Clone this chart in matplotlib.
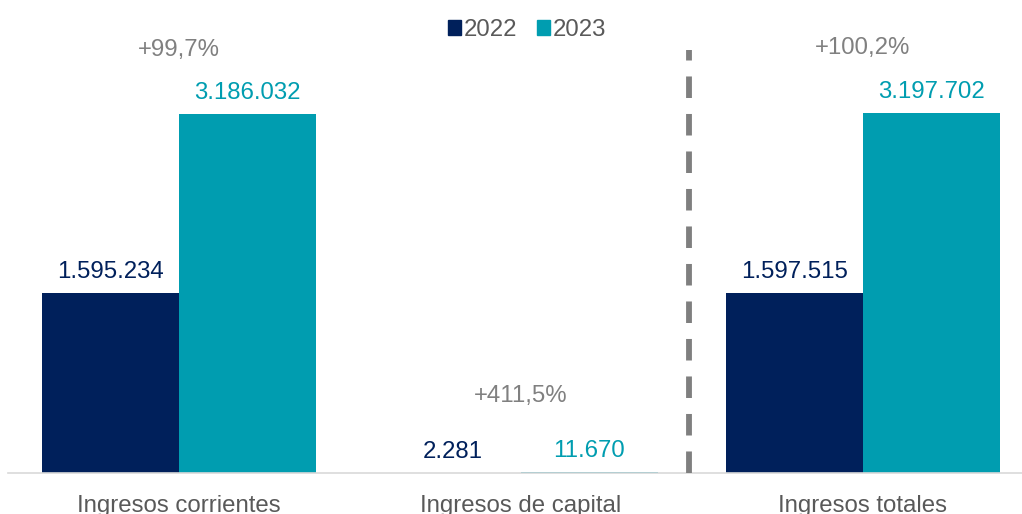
import matplotlib
matplotlib.use("Agg")
import matplotlib.pyplot as plt
from matplotlib.patches import Patch

plt.rcParams['font.family'] = ['Liberation Sans', 'DejaVu Sans']
plt.rcParams['lines.scale_dashes'] = False

categories = ["Ingresos corrientes", "Ingresos de capital", "Ingresos totales"]
series_names = ["2022", "2023"]
values_2022 = [1595234, 2281, 1597515]
values_2023 = [3186032, 11670, 3197702]
labels_2022 = ["1.595.234", "2.281", "1.597.515"]
labels_2023 = ["3.186.032", "11.670", "3.197.702"]
growth_labels = ["+99,7%", "+411,5%", "+100,2%"]

navy = "#00205B"
teal = "#009DB0"
gray_txt = "#595959"
gray_pct = "#808080"

FS = 17.3
W, H = 1022, 514
fig = plt.figure(figsize=(W / 100, H / 100), dpi=100)
ax = fig.add_axes([8 / W, 41 / H, (W - 8) / W, 473 / H])

x = list(range(len(categories)))
bw = 0.4
ax.bar([i - bw / 2 for i in x], values_2022, width=bw, color=navy, label=series_names[0])
ax.bar([i + bw / 2 for i in x], values_2023, width=bw, color=teal, label=series_names[1])

ymax = 3186032 * 473 / 359
ax.set_xlim(-0.5, 2.465)
ax.set_ylim(0, ymax)

off = 21 / 473 * ymax
for i in x:
    ax.text(i - bw / 2, values_2022[i] + off, labels_2022[i], ha="center", va="center",
            color=navy, fontsize=FS)
    ax.text(i + bw / 2, values_2023[i] + off, labels_2023[i], ha="center", va="center",
            color=teal, fontsize=FS)

pct_y = [50, 396, 48]
for i in x:
    ax.text(i, (473 - pct_y[i]) / 473 * ymax, growth_labels[i], ha="center", va="center",
            color=gray_pct, fontsize=FS)

ax.axvline(1.49, ymin=0, ymax=(473 - 50) / 473, color="#7F7F7F", lw=4.2,
           linestyle=(0, (15.5, 11.5)), zorder=3)

for s in ["top", "right", "left"]:
    ax.spines[s].set_visible(False)
ax.spines["bottom"].set_color("#D9D9D9")
ax.spines["bottom"].set_linewidth(1.2)
ax.set_yticks([])
ax.set_xticks(x)
ax.set_xticklabels(categories, fontsize=FS, color=gray_txt)
ax.tick_params(axis="x", length=0, pad=16)

handles = [Patch(color=navy), Patch(color=teal)]
fig.legend(handles, series_names, loc="center", bbox_to_anchor=(527 / W, 1 - 30 / H),
           ncol=2, frameon=False, fontsize=FS, labelcolor=gray_txt,
           handlelength=0.55, handleheight=0.55, handletextpad=0.1, columnspacing=0.85)

fig.savefig("out.png", dpi=100)
